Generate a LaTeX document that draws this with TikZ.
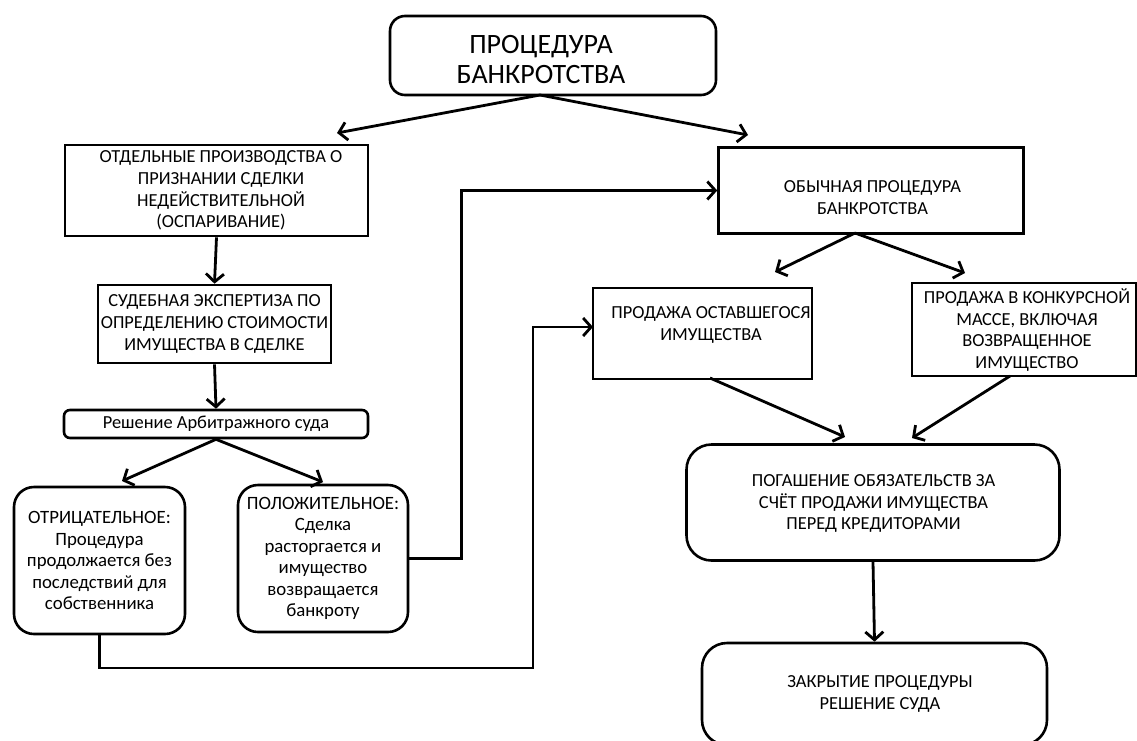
\documentclass[tikz,border=0pt]{standalone}
\usepackage{fontspec}
\setmainfont{Carlito}
\usetikzlibrary{arrows.meta}
\begin{document}
\begin{tikzpicture}[x=1pt,y=-1pt,
  box/.style={draw, line width=2.6pt, rectangle, inner sep=0pt, align=center},
  rbox/.style={box, rounded corners=#1},
  rbox/.default=14pt,
  conn/.style={line width=2.8pt, -{Straight Barb[length=8pt,width=18pt,line width=2.8pt]}},
  small/.style={font=\fontsize{18.4}{21.8}\selectfont, align=center},
  mid/.style={font=\fontsize{18.8}{21.5}\selectfont, align=center}
]
\useasboundingbox (0,0) rectangle (1137,740);

% top
\node[rbox=15pt, minimum width=326pt, minimum height=79pt] (top) at (553,55.5) {};
\node[font=\fontsize{28}{30.5}\selectfont, align=center] (topt) at (541,59.5) {ПРОЦЕДУРА\\БАНКРОТСТВА};

% left branch
\node[box, minimum width=303pt, minimum height=91pt] (otd) at (216.5,190.5) {};
\node[small] (otdt) at (221,190.5)
  {ОТДЕЛЬНЫЕ ПРОИЗВОДСТВА О\\ПРИЗНАНИИ СДЕЛКИ\\НЕДЕЙСТВИТЕЛЬНОЙ\\(ОСПАРИВАНИЕ)};
\node[box, small, minimum width=233pt, minimum height=78pt] (exp) at (214.5,324)
  {СУДЕБНАЯ ЭКСПЕРТИЗА ПО\\ОПРЕДЕЛЕНИЮ СТОИМОСТИ\\ИМУЩЕСТВА В СДЕЛКЕ};
\node[rbox=6pt, small, minimum width=304pt, minimum height=28pt] (res) at (216,424)
  {Решение Арбитражного суда};
\node[rbox=20pt, mid, minimum width=171pt, minimum height=147pt] (neg) at (99.5,560.5)
  {ОТРИЦАТЕЛЬНОЕ:\\Процедура\\продолжается без\\последствий для\\собственника};
\node[rbox=20pt, mid, minimum width=170pt, minimum height=147pt] (pos) at (323,558.5)
  {ПОЛОЖИТЕЛЬНОЕ:\\Сделка\\расторгается и\\имущество\\возвращается\\банкроту};

% right branch
\node[box, minimum width=305pt, minimum height=86pt] (ord) at (871,190.5) {};
\node[small] (ordt) at (872.5,197.5) {ОБЫЧНАЯ ПРОЦЕДУРА\\БАНКРОТСТВА};
\node[box, minimum width=219pt, minimum height=91pt] (ost) at (702.5,333.5) {};
\node[small] (ostt) at (711,325) {ПРОДАЖА ОСТАВШЕГОСЯ\\ИМУЩЕСТВА};
\node[box, minimum width=224pt, minimum height=93pt] (konk) at (1024,329.5) {};
\node[small] (konkt) at (1027,330)
  {ПРОДАЖА В КОНКУРСНОЙ\\МАССЕ, ВКЛЮЧАЯ\\ВОЗВРАЩЕННОЕ\\ИМУЩЕСТВО};
\node[rbox=25pt, minimum width=373pt, minimum height=116pt] (pog) at (873,502.5) {};
\node[small] (pogt) at (873.5,503.5) {ПОГАШЕНИЕ ОБЯЗАТЕЛЬСТВ ЗА\\СЧЁТ ПРОДАЖИ ИМУЩЕСТВА\\ПЕРЕД КРЕДИТОРАМИ};
\node[rbox=25pt, minimum width=345pt, minimum height=102pt] (zak) at (874.5,694) {};
\node[small] (zakt) at (880,694) {ЗАКРЫТИЕ ПРОЦЕДУРЫ\\РЕШЕНИЕ СУДА};

% free ends of the connectors
\coordinate (topl) at (337,133);
\coordinate (topr) at (748,135);
\coordinate (topout) at (540,95);
\coordinate (resl) at (122,481);
\coordinate (resr) at (323,482);
\coordinate (ordl) at (775,272);
\coordinate (ordr) at (965,273);
\coordinate (ostin) at (593,327);
\coordinate (pogl) at (845,437);
\coordinate (pogr) at (912,438);
\coordinate (ordout) at (855,233);
\coordinate (ostout) at (710,378);
\coordinate (konkout) at (1010,376);

% connectors
\draw[conn] (topout) -- (topl);
\draw[conn] (topout) -- (topr);
\draw[conn] (otd.south) -- (exp.north);
\draw[conn] (exp.south) -- (res.north);
\draw[conn] (res.south) -- (resl);
\draw[conn] (res.south) -- (resr);
\draw[conn] (pos.east) -- ++(52,0) |- (ord.west);
\draw[conn] (neg.south) |- (533,668) |- (ostin);
\draw[conn] (ordout) -- (ordl);
\draw[conn] (ordout) -- (ordr);
\draw[conn] (ostout) -- (pogl);
\draw[conn] (konkout) -- (pogr);
\draw[conn] (pog.south) -- (zak.north);
\end{tikzpicture}
\end{document}
